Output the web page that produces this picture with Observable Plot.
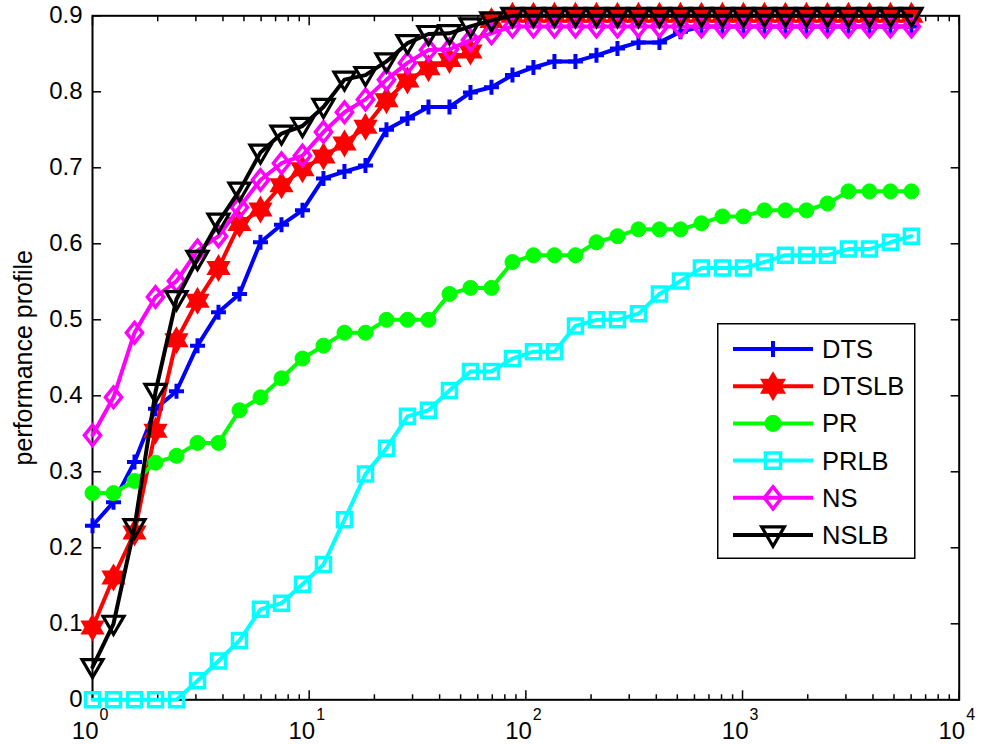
<!DOCTYPE html>
<html><head><meta charset="utf-8">
<script src="https://cdn.jsdelivr.net/npm/d3@7"></script>
<script src="https://cdn.jsdelivr.net/npm/@observablehq/plot@0.6"></script>
<style>
html,body{margin:0;padding:0;background:#fff;}
#wrap{position:relative;width:982px;height:744px;font-family:"Liberation Sans",Arial,Helvetica,sans-serif;}
#legend{position:absolute;left:717px;top:323px;}
</style></head><body><div id="wrap"></div>
<script>
// performance ratio tau (x values of the sampled points)
const tau = [1, 1.25, 1.5625, 1.953, 2.441, 3.052, 3.815, 4.768, 5.960, 7.451,
  9.313, 11.64, 14.55, 18.19, 22.74, 28.42, 35.53, 44.41, 55.51, 69.39,
  86.74, 108.4, 135.5, 169.4, 211.8, 264.7, 330.9, 413.6, 517.0, 646.2,
  807.8, 1009.7, 1262.2, 1577.7, 1972.2, 2465.2, 3081.5, 3851.9, 4814.8, 6018.5];

const DTS = [0.229, 0.260, 0.313, 0.383, 0.406, 0.466, 0.510, 0.534, 0.602, 0.625,
  0.644, 0.686, 0.695, 0.703, 0.750, 0.765, 0.780, 0.780, 0.799, 0.806,
  0.822, 0.832, 0.840, 0.840, 0.848, 0.857, 0.865, 0.865, 0.879, 0.886,
  0.886, 0.886, 0.886, 0.886, 0.886, 0.886, 0.886, 0.886, 0.886, 0.886];
const DTSLB = [0.095, 0.161, 0.220, 0.354, 0.473, 0.525, 0.568, 0.626, 0.645, 0.677,
  0.698, 0.715, 0.732, 0.754, 0.789, 0.815, 0.831, 0.842, 0.853, 0.893,
  0.900, 0.900, 0.900, 0.900, 0.900, 0.900, 0.900, 0.900, 0.900, 0.900,
  0.900, 0.900, 0.900, 0.900, 0.900, 0.900, 0.900, 0.900, 0.900, 0.900];
const PR = [0.272, 0.272, 0.288, 0.312, 0.321, 0.338, 0.338, 0.381, 0.398, 0.423,
  0.449, 0.466, 0.483, 0.483, 0.500, 0.500, 0.500, 0.534, 0.542, 0.542,
  0.576, 0.585, 0.585, 0.585, 0.602, 0.610, 0.619, 0.619, 0.619, 0.627,
  0.636, 0.636, 0.644, 0.644, 0.644, 0.653, 0.669, 0.669, 0.669, 0.669];
const PRLB = [0, 0, 0, 0, 0, 0.025, 0.051, 0.078, 0.119, 0.127,
  0.152, 0.178, 0.237, 0.297, 0.331, 0.373, 0.381, 0.407, 0.432, 0.432,
  0.449, 0.458, 0.458, 0.492, 0.500, 0.500, 0.508, 0.534, 0.551, 0.568,
  0.568, 0.568, 0.576, 0.585, 0.585, 0.585, 0.593, 0.593, 0.602, 0.610];
const NS = [0.348, 0.398, 0.483, 0.530, 0.551, 0.591, 0.610, 0.648, 0.684, 0.706,
  0.716, 0.747, 0.773, 0.790, 0.816, 0.838, 0.855, 0.856, 0.868, 0.877,
  0.886, 0.886, 0.886, 0.886, 0.886, 0.886, 0.886, 0.886, 0.886, 0.886,
  0.886, 0.886, 0.886, 0.886, 0.886, 0.886, 0.886, 0.886, 0.886, 0.886];
const NSLB = [0.043, 0.100, 0.227, 0.405, 0.527, 0.580, 0.629, 0.670, 0.720, 0.745,
  0.755, 0.780, 0.816, 0.822, 0.840, 0.864, 0.876, 0.877, 0.886, 0.894,
  0.900, 0.900, 0.900, 0.900, 0.900, 0.900, 0.900, 0.900, 0.900, 0.900,
  0.900, 0.900, 0.900, 0.900, 0.900, 0.900, 0.900, 0.900, 0.900, 0.900];

const seriesNames = ["DTS", "DTSLB", "PR", "PRLB", "NS", "NSLB"];
const seriesValues = [DTS, DTSLB, PR, PRLB, NS, NSLB];
const seriesColors = ["#0000ff", "#ff0000", "#00ff00", "#00ffff", "#ff00ff", "#000000"];

const xTicks = [1, 10, 100, 1000, 10000];
const xTickBase = ["10", "10", "10", "10", "10"];
const xTickExp = ["0", "1", "2", "3", "4"];
const yTicks = [0, 0.1, 0.2, 0.3, 0.4, 0.5, 0.6, 0.7, 0.8, 0.9];
const yTickLabels = ["0", "0.1", "0.2", "0.3", "0.4", "0.5", "0.6", "0.7", "0.8", "0.9"];
const yLabel = "performance profile";

const xMinor = d3.range(0, 4).flatMap(k => d3.range(2, 10).map(m => m * Math.pow(10, k)));

// marker shapes (MATLAB style)
const rad = s => Math.sqrt(s / Math.PI);
const plusSym = {draw(c, s) { const r = rad(s); c.moveTo(-r, 0); c.lineTo(r, 0); c.moveTo(0, -r); c.lineTo(0, r); }};
const hexSym = {draw(c, s) { const R = rad(s), ri = R / Math.sqrt(3);
  for (let k = 0; k < 12; k++) { const a = -Math.PI / 2 + k * Math.PI / 6, rr = k % 2 ? ri : R;
    if (k) c.lineTo(rr * Math.cos(a), rr * Math.sin(a)); else c.moveTo(rr * Math.cos(a), rr * Math.sin(a)); }
  c.closePath(); }};
const circSym = {draw(c, s) { const r = rad(s); c.moveTo(r, 0); c.arc(0, 0, r, 0, 2 * Math.PI); }};
const squareSym = {draw(c, s) { const r = rad(s); c.rect(-r, -r, 2 * r, 2 * r); }};
const diamondSym = {draw(c, s) { const r = rad(s); c.moveTo(0, -1.2 * r); c.lineTo(0.95 * r, 0); c.lineTo(0, 1.2 * r); c.lineTo(-0.95 * r, 0); c.closePath(); }};
const triDownSym = {draw(c, s) { const r = rad(s); c.moveTo(-r, -0.72 * r); c.lineTo(r, -0.72 * r); c.lineTo(0, r); c.closePath(); }};

const seriesStyle = [
  {symbol: plusSym, r: 7.5, fill: "none", sw: 4},
  {symbol: hexSym, r: 12.5, fill: "#ff0000", sw: 1.5},
  {symbol: circSym, r: 7.5, fill: "#00ff00", sw: 1},
  {symbol: squareSym, r: 7, fill: "none", sw: 3.5},
  {symbol: diamondSym, r: 8.5, fill: "none", sw: 3.5},
  {symbol: triDownSym, r: 10.5, fill: "none", sw: 3.2}
];

const marks = [Plot.frame({stroke: "black", strokeWidth: 2})];
const tickFont = 24;
marks.push(
  Plot.axisY(yTicks, {anchor: "left", tickSize: -9, tickPadding: 19, tickFormat: (d, i) => yTickLabels[i], fontSize: tickFont, label: null, strokeWidth: 1.5}),
  Plot.axisY(yTicks, {anchor: "right", tickSize: -9, tickFormat: () => "", label: null, strokeWidth: 1.5}),
  Plot.axisX(xTicks, {anchor: "bottom", tickSize: -9, tickFormat: () => "", label: null, strokeWidth: 1.5}),
  Plot.axisX(xTicks, {anchor: "top", tickSize: -9, tickFormat: () => "", label: null, strokeWidth: 1.5}),
  Plot.axisX(xMinor, {anchor: "bottom", tickSize: -5, tickFormat: () => "", label: null, strokeWidth: 1.5}),
  Plot.axisX(xMinor, {anchor: "top", tickSize: -5, tickFormat: () => "", label: null, strokeWidth: 1.5}),
  Plot.text(xTicks, {x: d => d, frameAnchor: "bottom", text: (d, i) => xTickBase[i], textAnchor: "end", lineAnchor: "bottom", dx: 6, dy: 39, fontSize: tickFont, fill: "black"}),
  Plot.text(xTicks, {x: d => d, frameAnchor: "bottom", text: (d, i) => xTickExp[i], textAnchor: "start", lineAnchor: "bottom", dx: 7, dy: 20, fontSize: 16, fill: "black"}),
  Plot.text([yLabel], {frameAnchor: "left", text: d => d, rotate: -90, textAnchor: "middle", lineAnchor: "bottom", dx: -61, fontSize: 25, fill: "black"})
);

seriesNames.forEach((name, si) => {
  const rows = tau.map((t, i) => ({x: t, y: seriesValues[si][i], name}));
  const st = seriesStyle[si];
  marks.push(
    Plot.line(rows, {x: "x", y: "y", stroke: seriesColors[si], strokeWidth: 4, strokeLinejoin: "round"}),
    Plot.dot(rows, {x: "x", y: "y", symbol: st.symbol, r: st.r, fill: st.fill, stroke: seriesColors[si], strokeWidth: st.sw})
  );
});

const chart = Plot.plot({
  width: 982, height: 744,
  marginLeft: 92, marginRight: 23.3, marginTop: 15.3, marginBottom: 44.7,
  x: {type: "log", domain: [1, 10000]},
  y: {domain: [0, 0.9]},
  style: {fontFamily: "'Liberation Sans', Arial, Helvetica, sans-serif", background: "white", color: "black", overflow: "visible"},
  marks
});
document.getElementById("wrap").appendChild(chart);

// legend (HTML-positioned SVG)
const lw = 200, lh = 236;
const leg = d3.select("#wrap").append("svg").attr("id", "legend").attr("width", lw).attr("height", lh)
  .style("font-family", "'Liberation Sans', Arial, Helvetica, sans-serif");
leg.append("rect").attr("x", 0.75).attr("y", 0.75).attr("width", lw - 3).attr("height", lh - 1.5)
  .attr("fill", "white").attr("stroke", "black").attr("stroke-width", 1.5);
seriesNames.forEach((name, i) => {
  const cy = 26 + 37.2 * i, st = seriesStyle[i], col = seriesColors[i];
  const g = leg.append("g").attr("transform", `translate(0,${cy})`);
  g.append("line").attr("x1", 16).attr("x2", 96).attr("y1", 0).attr("y2", 0).attr("stroke", col).attr("stroke-width", 4);
  const sz = Math.PI * Math.pow(st.r * 1.08, 2);
  g.append("path").attr("transform", "translate(56,0)").attr("d", d3.symbol().type(st.symbol).size(sz)())
    .attr("fill", st.fill).attr("stroke", col).attr("stroke-width", st.sw);
  g.append("text").attr("x", 105).attr("y", 0).attr("dy", "0.35em").attr("font-size", 25.5).attr("fill", "black").text(name);
});
</script></body></html>
